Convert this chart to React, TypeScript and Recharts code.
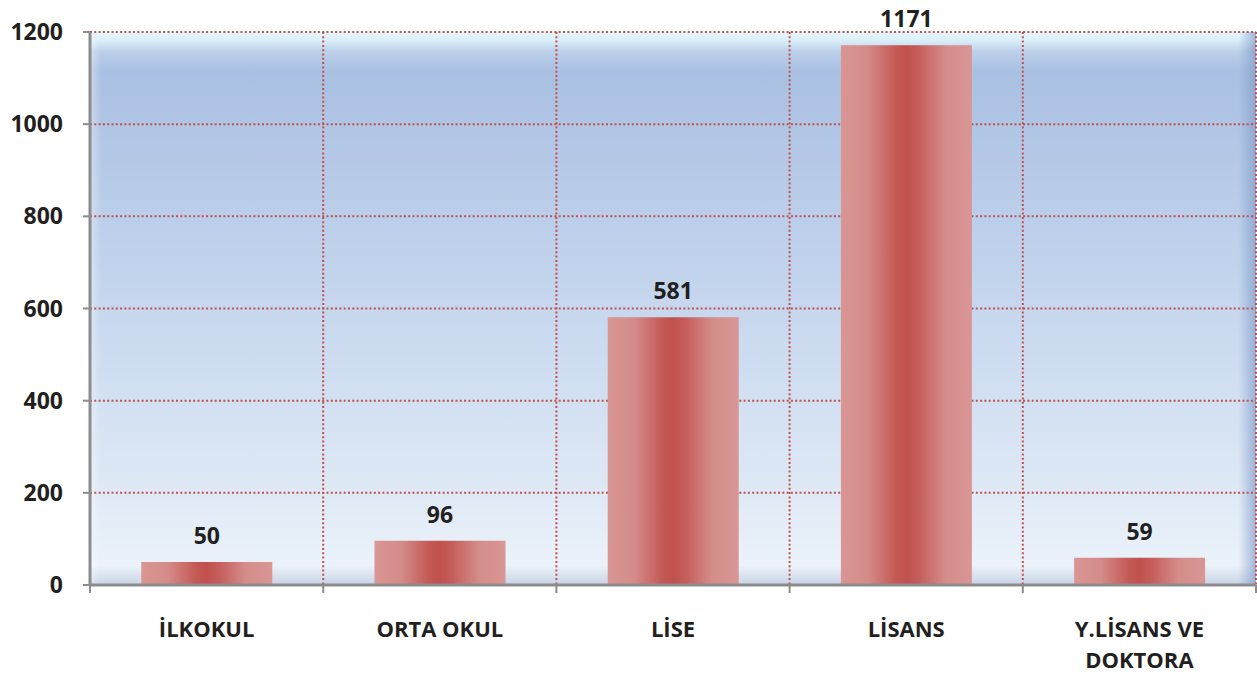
import { BarChart, Bar, XAxis, YAxis, CartesianGrid, LabelList } from 'recharts'

const categories = ['İLKOKUL', 'ORTA OKUL', 'LİSE', 'LİSANS', 'Y.LİSANS VE DOKTORA']
const counts = [50, 96, 581, 1171, 59]
const yTicks = [0, 200, 400, 600, 800, 1000, 1200]

const data = categories.map((name, i) => ({ name, value: counts[i] }))

const W = 1257
const H = 675
const X_HEIGHT = 90
const MARGIN = { top: 32, right: 1, bottom: 0, left: 0 }
const Y_WIDTH = 90
const PLOT_W = W - MARGIN.left - MARGIN.right - Y_WIDTH
const BAND = PLOT_W / categories.length
const AXIS_Y = H - MARGIN.bottom - X_HEIGHT

const FONT = '"Open Sans", "DejaVu Sans", sans-serif'
const TEXT = '#231f20'

// simple greedy word wrap for long category names
function wrap(label: string, max = 12) {
  const lines: string[] = []
  let cur = ''
  label.split(' ').forEach((w) => {
    const next = cur ? cur + ' ' + w : w
    if (next.length > max && cur) {
      lines.push(cur)
      cur = w
    } else {
      cur = next
    }
  })
  if (cur) lines.push(cur)
  return lines
}

function CategoryTick(props: any) {
  const { x, payload, index } = props
  const lines = wrap(payload.value)
  return (
    <g>
      <line x1={x - BAND / 2} x2={x - BAND / 2} y1={AXIS_Y} y2={AXIS_Y + 8} stroke="#8c8c8c" strokeWidth={2} />
      {index === categories.length - 1 && (
        <line x1={x + BAND / 2} x2={x + BAND / 2} y1={AXIS_Y} y2={AXIS_Y + 8} stroke="#8c8c8c" strokeWidth={2} />
      )}
      <text x={x} y={AXIS_Y} textAnchor="middle" fill={TEXT} fontSize={22} fontWeight={700} fontFamily={FONT}>
        {lines.map((l, i) => (
          <tspan key={i} x={x} dy={i === 0 ? 52 : 31}>
            {l}
          </tspan>
        ))}
      </text>
    </g>
  )
}

export default function App() {
  return (
    <div style={{ position: 'absolute', left: 0, top: 0, width: W, height: H, background: '#fff' }}>
      <BarChart width={W} height={H} data={data} margin={MARGIN} barCategoryGap="22%">
        <defs>
          <linearGradient id="plotBg" x1="0" y1="0" x2="0" y2="1">
            <stop offset="0" stopColor="#e6f6fc" />
            <stop offset="0.014" stopColor="#dcf0fa" />
            <stop offset="0.035" stopColor="#bcd0ea" />
            <stop offset="0.07" stopColor="#aac0e2" />
            <stop offset="0.48" stopColor="#c5d6ee" />
            <stop offset="0.81" stopColor="#dde8f5" />
            <stop offset="0.965" stopColor="#ebf2fa" />
            <stop offset="1" stopColor="#c8d3e5" />
          </linearGradient>
          <linearGradient id="plotEdge" x1="0" y1="0" x2="1" y2="0">
            <stop offset="0" stopColor="#ffffff" stopOpacity={0.35} />
            <stop offset="0.01" stopColor="#ffffff" stopOpacity={0} />
            <stop offset="0.985" stopColor="#7f9bc8" stopOpacity={0} />
            <stop offset="1" stopColor="#7f9bc8" stopOpacity={0.7} />
          </linearGradient>
          <linearGradient id="barFill" x1="0" y1="0" x2="1" y2="0">
            <stop offset="0" stopColor="#d99694" />
            <stop offset="0.2" stopColor="#d48c8a" />
            <stop offset="0.42" stopColor="#c45955" />
            <stop offset="0.5" stopColor="#c0504d" />
            <stop offset="0.6" stopColor="#c65f5c" />
            <stop offset="0.8" stopColor="#d48d8b" />
            <stop offset="1" stopColor="#d99694" />
          </linearGradient>
        </defs>
        <CartesianGrid fill="url(#plotBg)" horizontal={false} vertical={false} />
        <CartesianGrid fill="url(#plotEdge)" horizontal={false} vertical={false} />
        <CartesianGrid
          stroke="#c0504d"
          strokeWidth={2}
          strokeDasharray="2 2.3"
          verticalCoordinatesGenerator={({ offset }: any) =>
            [1, 2, 3, 4, 5].map((i) => offset.left + (i * offset.width) / 5)
          }
        />
        <XAxis
          dataKey="name"
          interval={0}
          axisLine={{ stroke: '#8c8c8c', strokeWidth: 3 }}
          tickLine={false}
          height={X_HEIGHT}
          tick={<CategoryTick />}
        />
        <YAxis
          width={Y_WIDTH}
          domain={[0, 1200]}
          ticks={yTicks}
          interval={0}
          axisLine={{ stroke: '#8c8c8c', strokeWidth: 3 }}
          tickLine={{ stroke: '#8c8c8c', strokeWidth: 2 }}
          tickSize={7}
          tickMargin={20}
          tick={{ fill: TEXT, fontSize: 23, fontWeight: 700, fontFamily: FONT }}
        />
        <Bar dataKey="value" fill="url(#barFill)" isAnimationActive={false}>
          <LabelList
            dataKey="value"
            position="top"
            offset={18}
            fill={TEXT}
            fontSize={23}
            fontWeight={700}
            fontFamily={FONT}
          />
        </Bar>
      </BarChart>
    </div>
  )
}
